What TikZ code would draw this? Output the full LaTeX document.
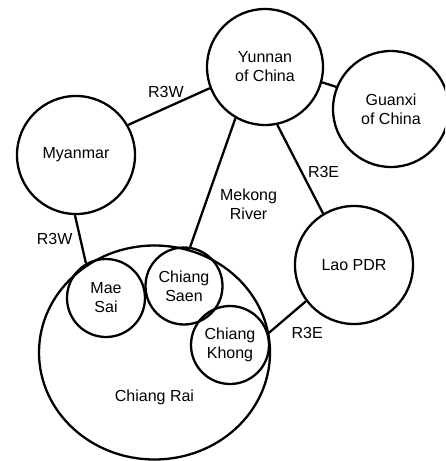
\documentclass[tikz,border=0pt]{standalone}
\usepackage{fontspec}
\setmainfont{Liberation Sans}
\usepackage{tikz}
\usetikzlibrary{positioning,shapes.geometric}

\begin{document}
\begin{tikzpicture}[x=1pt,y=-1pt,line width=2.3pt,
    place/.style={circle,draw,inner sep=0pt,align=center},
    road/.style={font=\fontsize{16}{19}\selectfont}]

    \useasboundingbox (0,0) rectangle (445,461);
    \begin{scope}
    \clip (0,0) rectangle (445,461);

    \node[ellipse,draw,minimum width=231,minimum height=214,
      label={[road,yshift=-45pt]center:Chiang Rai}] (CR) at (154.5,352.5) {};

    \node[place,road,minimum size=116] (Y) at (265,67) {Yunnan\\of China};
    \node[place,road,minimum size=116] (G) at (391,109) {Guanxi\\of China};
    \node[place,road,minimum size=118] (M) at (76,155) {Myanmar};
    \node[place,road,minimum size=118] (L) at (354,265) {Lao PDR};

    \node[place,road,minimum size=78] (MS) at (106,298) {Mae\\Sai};
    \node[place,road,minimum size=77] (CS) at (184,286) {Chiang\\Saen};
    \node[place,road,minimum size=78] (CK) at (230,345) {Chiang\\Khong};

    \draw[] (Y.201) -- (M.30) node[road,midway,above=4.6pt,xshift=-3pt] {R3W};
    \draw[] (Y.-15) -- (G.158);
    \draw[] (Y.240) -- (CS.81) node[road,pos=0.67,right=10.5pt,align=center] {Mekong\\River};
    \draw[] (Y.-78) -- (L.121) node[road,pos=0.53,right=2pt] {R3E};
    \draw[] (M.-91) -- (MS.120) node[road,midway,left=3.5pt] {R3W};
    \draw[] (L.217) -- (CK.17) node[road,midway,below right=6pt and 0pt] {R3E};
    \end{scope}
  \end{tikzpicture}
\end{document}
